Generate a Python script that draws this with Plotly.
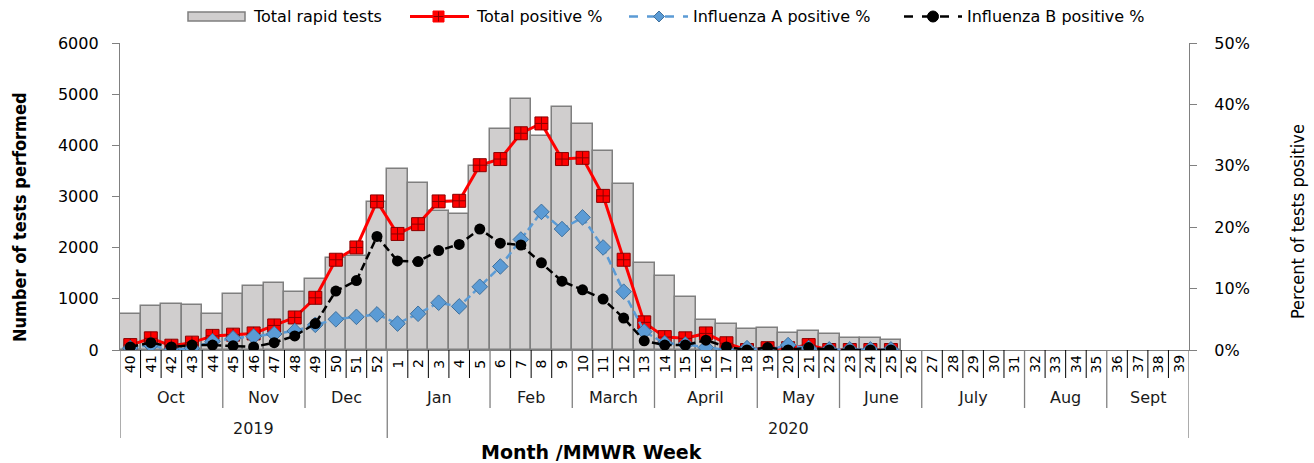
import plotly.graph_objects as go

# ---------------- data ----------------
weeks = ["40", "41", "42", "43", "44", "45", "46", "47", "48", "49", "50", "51", "52",
         "1", "2", "3", "4", "5", "6", "7", "8", "9", "10", "11", "12", "13", "14",
         "15", "16", "17", "18", "19", "20", "21", "22", "23", "24", "25", "26", "27",
         "28", "29", "30", "31", "32", "33", "34", "35", "36", "37", "38", "39"]

total_tests = [704, 866, 892, 879, 704, 1088, 1251, 1316, 1134, 1381, 1790, 1830, 2899,
               3531, 3257, 2717, 2664, 3596, 4319, 4899, 4189, 4749, 4410, 3896, 3244,
               1694, 1453, 1042, 586, 508, 417, 423, 332, 365, 319, 241, 228, 202,
               None, None, None, None, None, None, None, None, None, None, None, None, None, None]

total_pos = [0.8, 1.9, 0.7, 1.2, 2.3, 2.5, 2.7, 4.0, 5.3, 8.5, 14.7, 16.7, 24.2,
             18.9, 20.5, 24.2, 24.3, 30.1, 31.1, 35.3, 36.9, 31.1, 31.3, 25.1, 14.7,
             4.5, 2.1, 1.9, 2.7, 1.1, 0.0, 0.3, 0.3, 0.8, 0.0, 0.0, 0.0, 0.0,
             None, None, None, None, None, None, None, None, None, None, None, None, None, None]

flu_a_pos = [0.3, 0.8, 0.0, 0.3, 1.4, 1.9, 2.2, 2.6, 3.1, 4.1, 5.0, 5.4, 5.8,
             4.3, 5.9, 7.7, 7.1, 10.3, 13.6, 18.0, 22.5, 19.7, 21.6, 16.7, 9.5,
             3.0, 1.1, 0.9, 0.4, 0.0, 0.3, 0.0, 0.8, 0.3, 0.1, 0.1, 0.1, 0.1,
             None, None, None, None, None, None, None, None, None, None, None, None, None, None]

flu_b_pos = [0.5, 1.2, 0.5, 0.8, 0.8, 0.7, 0.5, 1.2, 2.3, 4.3, 9.6, 11.3, 18.5,
             14.5, 14.4, 16.2, 17.2, 19.7, 17.4, 17.1, 14.2, 11.2, 9.8, 8.3, 5.2,
             1.5, 0.8, 0.8, 1.6, 0.5, 0.0, 0.4, 0.0, 0.4, 0.0, 0.0, 0.0, 0.0,
             None, None, None, None, None, None, None, None, None, None, None, None, None, None]

months = ["Oct", "Nov", "Dec", "Jan", "Feb", "March", "April", "May", "June", "July", "Aug", "Sept"]
month_nweeks = [5, 4, 4, 5, 4, 4, 5, 4, 4, 5, 4, 4]
years = ["2019", "2020"]
year_nweeks = [13, 39]

left_ticks = [0, 1000, 2000, 3000, 4000, 5000, 6000]
right_ticks = [0, 10, 20, 30, 40, 50]
right_tick_labels = ["0%", "10%", "20%", "30%", "40%", "50%"]

# ---------------- layout helpers ----------------
W, H = 1314, 463
ML, MR, MT, MB = 120, 125, 43, 113
PW, PH = W - ML - MR, H - MT - MB


def px(x):
    return (x - ML) / PW


def py(y):
    return (MT + PH - y) / PH


FONT = "DejaVu Sans, Verdana, sans-serif"
COND = "DejaVu Sans Condensed, Liberation Sans Narrow, DejaVu Sans, sans-serif"
xs = list(range(len(weeks)))

fig = go.Figure()
fig.add_trace(go.Bar(
    x=xs, y=total_tests, name="Total rapid tests",
    marker=dict(color="#d0cece", line=dict(color="#7f7f7f", width=1.5)),
    customdata=weeks, hovertemplate="Week %{customdata}: %{y}<extra></extra>",
))
fig.add_trace(go.Scatter(
    x=xs, y=total_pos, name="Total positive %", yaxis="y2", mode="lines+markers",
    line=dict(color="#ff0000", width=3),
    marker=dict(symbol="square-cross", size=13, color="#ff0000",
                line=dict(color="#8b0000", width=1)),
))
fig.add_trace(go.Scatter(
    x=xs, y=flu_a_pos, name="Influenza A positive %", yaxis="y2", mode="lines+markers",
    line=dict(color="#5b9bd5", width=2.5, dash="8px,4px"),
    marker=dict(symbol="diamond", size=12, color="#5b9bd5",
                line=dict(color="#41719c", width=1)),
))
fig.add_trace(go.Scatter(
    x=xs, y=flu_b_pos, name="Influenza B positive %", yaxis="y2", mode="lines+markers",
    line=dict(color="#000000", width=2.5, dash="8px,4px"),
    marker=dict(symbol="circle", size=11, color="#000000"),
))

shapes = []
annotations = []


def text_ann(x, y, text, size, xref="paper", angle=0, xanchor="center",
             family=FONT, color="#000000"):
    annotations.append(dict(x=x, xref=xref, xanchor=xanchor, y=y, yref="paper",
                            yanchor="middle", text=text, textangle=angle,
                            showarrow=False,
                            font=dict(family=family, size=size, color=color)))


# week labels & week separators
for i, w in enumerate(weeks):
    text_ann(i, py(364), w, 14, xref="x", angle=-90)

month_bounds = set()
acc = 0
for n in month_nweeks:
    acc += n
    month_bounds.add(acc)
year_bounds = set()
acc = 0
for n in year_nweeks:
    acc += n
    year_bounds.add(acc)

for k in range(1, len(weeks)):
    if k in year_bounds:
        continue
    if k in month_bounds:
        shapes.append(dict(type="line", xref="x", yref="paper", x0=k - 0.5, x1=k - 0.5,
                           y0=0, y1=py(408), line=dict(color="#808080", width=1.3)))
    else:
        shapes.append(dict(type="line", xref="x", yref="paper", x0=k - 0.5, x1=k - 0.5,
                           y0=0, y1=py(378), line=dict(color="#000000", width=1)))

for k in [0, len(weeks)] + sorted(b for b in year_bounds if b < len(weeks)):
    shapes.append(dict(type="line", xref="x", yref="paper", x0=k - 0.5, x1=k - 0.5,
                       y0=0, y1=py(438), line=dict(color="#808080", width=1.3)))

# month labels
start = 0
for m, n in zip(months, month_nweeks):
    text_ann(start + (n - 1) / 2, py(397), m, 16, xref="x", color="#1a1a1a")
    start += n

# year labels
start = 0
for yname, n in zip(years, year_nweeks):
    text_ann(start + (n - 1) / 2, py(428), yname, 16, xref="x", color="#1a1a1a")
    start += n

# axis titles
text_ann(px(591), py(452), "<b>Month /MMWR Week</b>", 19)
text_ann(px(19), py(217), "<b>Number of tests performed</b>", 18, angle=-90, family=COND)
text_ann(px(1297), py(222), "Percent of tests positive", 18, angle=-90, family=COND)

# manual legend
LY = 16.5
LF = 16
shapes.append(dict(type="rect", xref="paper", yref="paper", x0=px(188), x1=px(245),
                   y0=py(21), y1=py(12), fillcolor="#d0cece",
                   line=dict(color="#7f7f7f", width=1.5)))
text_ann(px(251), py(LY), "Total rapid tests", LF, xanchor="left")
shapes.append(dict(type="line", xref="paper", yref="paper", x0=px(410), x1=px(469),
                   y0=py(LY), y1=py(LY), line=dict(color="#ff0000", width=3)))
shapes.append(dict(type="rect", xref="paper", yref="paper", x0=px(433), x1=px(444),
                   y0=py(LY + 5.5), y1=py(LY - 5.5), fillcolor="#ff0000",
                   line=dict(color="#ff0000", width=1)))
shapes.append(dict(type="line", xref="paper", yref="paper", x0=px(438.5), x1=px(438.5),
                   y0=py(LY + 5), y1=py(LY - 5), line=dict(color="#8b0000", width=1)))
shapes.append(dict(type="line", xref="paper", yref="paper", x0=px(433.5), x1=px(443.5),
                   y0=py(LY), y1=py(LY), line=dict(color="#8b0000", width=1)))
text_ann(px(474), py(LY), "Total positive %", LF, xanchor="left")
shapes.append(dict(type="line", xref="paper", yref="paper", x0=px(629), x1=px(688),
                   y0=py(LY), y1=py(LY),
                   line=dict(color="#5b9bd5", width=2.5, dash="dash")))
dcx = 659
shapes.append(dict(type="path", xref="paper", yref="paper",
                   path=(f"M {px(dcx - 5.5)},{py(LY)} L {px(dcx)},{py(LY - 5.5)} "
                         f"L {px(dcx + 5.5)},{py(LY)} L {px(dcx)},{py(LY + 5.5)} Z"),
                   fillcolor="#5b9bd5", line=dict(color="#41719c", width=1)))
text_ann(px(691), py(LY), "Influenza A positive %", LF, xanchor="left")
shapes.append(dict(type="line", xref="paper", yref="paper", x0=px(904), x1=px(962),
                   y0=py(LY), y1=py(LY),
                   line=dict(color="#000000", width=2.5, dash="dash")))
ccx = 933
shapes.append(dict(type="circle", xref="paper", yref="paper", x0=px(ccx - 5.5), x1=px(ccx + 5.5),
                   y0=py(LY + 5.5), y1=py(LY - 5.5), fillcolor="#000000",
                   line=dict(color="#000000", width=1)))
text_ann(px(965), py(LY), "Influenza B positive %", LF, xanchor="left")

fig.update_layout(
    width=W, height=H,
    margin=dict(l=ML, r=MR, t=MT, b=MB, pad=0),
    paper_bgcolor="#ffffff", plot_bgcolor="#ffffff",
    showlegend=False, bargap=0,
    font=dict(family=FONT, size=15, color="#000000"),
    xaxis=dict(range=[-0.5, len(weeks) - 0.5], showticklabels=False, ticks="",
               showgrid=False, zeroline=False, showline=True,
               linecolor="#808080", linewidth=1.3),
    yaxis=dict(range=[0, 6000], tickvals=left_ticks, ticks="outside", ticklen=7,
               tickcolor="#808080", tickwidth=1.3, showline=True, linecolor="#808080",
               linewidth=1.3, showgrid=False, zeroline=False, ticklabelstandoff=10,
               tickfont=dict(family=FONT, size=16, color="#000000")),
    yaxis2=dict(range=[0, 50], tickvals=right_ticks, ticktext=right_tick_labels,
                overlaying="y", side="right", ticks="outside", ticklen=7,
                tickcolor="#808080", tickwidth=1.3, showline=True, linecolor="#808080",
                linewidth=1.3, showgrid=False, zeroline=False, ticklabelstandoff=14,
                tickfont=dict(family=FONT, size=16, color="#000000")),
    shapes=shapes, annotations=annotations,
)

fig.write_html("out.html", config={"displayModeBar": False},
               post_script="document.body.style.margin='0';")
